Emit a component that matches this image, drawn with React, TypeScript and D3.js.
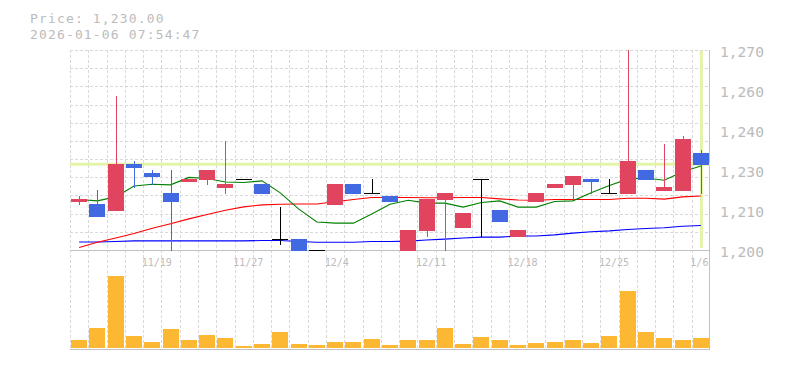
import React from 'react';
import * as d3 from 'd3';

const dates = ['11/13','11/14','11/17','11/18','11/19','11/20','11/21','11/25','11/26','11/27','11/28','12/1','12/2','12/3','12/4','12/5','12/8','12/9','12/10','12/11','12/12','12/15','12/16','12/17','12/18','12/19','12/22','12/23','12/24','12/25','12/26','12/29','12/30','1/5','1/6'];
const openP = [1217,1216,1214,1230,1227,1220,1224,1225,1222,1225,1223,1204,1204,1200,1216,1223,1220,1219,1200,1207,1218,1208,1225,1214,1205,1217,1222,1223,1225,1220,1220,1228,1221,1221,1234];
const highP = [1219,1221,1254,1231,1228,1228,1225,1228,1238,1225,1223,1215,1204,1200,1223,1223,1225,1219,1207,1218,1220,1213,1225,1214,1207,1220,1223,1226,1225,1225,1270,1228,1237,1240,1235];
const lowP = [1216,1212,1214,1222,1223,1200,1224,1223,1220,1225,1220,1202,1200,1200,1216,1220,1220,1217,1200,1205,1200,1208,1205,1210,1205,1217,1222,1218,1220,1220,1220,1225,1221,1221,1220];
const closeP = [1218,1212,1230,1229,1226,1217,1225,1228,1223,1225,1220,1204,1200,1200,1223,1220,1220,1217,1207,1218,1220,1213,1225,1210,1207,1220,1223,1226,1224,1220,1231,1225,1222,1239,1230];
const volume = [8000,20000,71000,12000,6000,19000,8000,13000,10000,2000,4000,16000,4000,3000,6000,6000,9000,3000,8000,8000,20000,4000,11000,8000,3000,5000,6000,8000,5000,12000,56000,16000,10000,8000,10000];
const ma5 = [1217.7,1217.2,1218.6,1222.4,1223.0,1222.8,1225.4,1225.0,1223.8,1223.6,1224.2,1220.0,1214.4,1209.8,1209.4,1209.4,1212.6,1216.0,1217.4,1216.4,1216.4,1215.0,1216.6,1217.2,1215.0,1215.0,1217.0,1217.2,1220.0,1222.6,1224.8,1225.2,1224.4,1227.4,1229.4];
const ma25 = [1200.9,1202.7,1204.2,1205.8,1207.6,1209.2,1210.9,1212.4,1213.9,1215.1,1215.8,1216.0,1216.1,1216.1,1216.9,1217.7,1218.4,1218.4,1218.4,1218.3,1218.3,1218.4,1218.4,1217.9,1217.5,1217.4,1217.7,1217.7,1217.7,1217.7,1218.1,1218.1,1217.8,1218.6,1218.9];
const ma75 = [1202.8,1202.8,1203.0,1203.2,1203.2,1203.2,1203.2,1203.2,1203.2,1203.2,1203.3,1203.3,1203.0,1202.7,1202.7,1202.7,1203.0,1203.0,1203.1,1203.5,1203.8,1204.2,1204.5,1204.5,1204.9,1204.9,1205.3,1205.9,1206.4,1206.7,1207.2,1207.5,1207.8,1208.3,1208.6];
const xLabels = ['11/19','11/27','12/4','12/11','12/18','12/25','1/6'];
const yTickLabels = ['1,200','1,210','1,230','1,240','1,260','1,270'];
const titlePrice = 'Price: 1,230.00';
const titleTime = '2026-01-06 07:54:47';
const currentPrice = 1230;
const priceMin = 1200;
const priceMax = 1270;

const UP = '#e0445f';
const DOWN = '#4169e1';
const VOL = '#fdb833';
const GRID = '#d9d9d9';
const AXIS = '#c0c0c0';
const TEXT = '#bbbbbb';
const HIL = '#e3f4a8';
const FONT = '"DejaVu Sans Mono", monospace';

export default function App() {
  const left = 70, right = 710, pTop = 50, pBot = 250, vTop = 262, vBot = 348, bottom = 350;
  const x = d3.scaleBand<string>().domain(dates).range([left, right]).paddingInner(0.125).paddingOuter(0.0625);
  const bw = x.bandwidth();
  const step = x.step();
  const y = d3.scaleLinear().domain([priceMin, priceMax]).range([pBot, pTop]);
  const yv = d3.scaleLinear().domain([0, (d3.max(volume) as number) * 1.2]).range([vBot, vTop]);
  const cx = (i: number) => (x(dates[i]) as number) + bw / 2;
  const line = d3.line<number>().x((_, i) => cx(i)).y(d => y(d));

  const hGrid = d3.range(12).map(k => pTop + (k * (pBot - pTop)) / 11);
  const vGrid = d3.range(35).map(k => left + k * step);
  const tickVals = yTickLabels.map((_, i) => priceMin + (i * (priceMax - priceMin)) / (yTickLabels.length - 1));
  const lastX = cx(dates.length - 1);

  return (
    <svg width={785} height={370} style={{ position: 'absolute', left: 0, top: 0, background: '#fff' }}>
      <text x={30} y={23} fontFamily={FONT} fontSize={13} letterSpacing={1.15} fill={TEXT}>{titlePrice}</text>
      <text x={30} y={38.5} fontFamily={FONT} fontSize={13} letterSpacing={1.15} fill={TEXT}>{titleTime}</text>

      {hGrid.map((g, k) => k < 11 && (
        <line key={'h' + k} x1={left} x2={right} y1={Math.round(g) + 0.5} y2={Math.round(g) + 0.5} stroke={GRID} strokeDasharray="3,2" shapeRendering="crispEdges" />
      ))}
      {vGrid.map((g, k) => (
        <line key={'v' + k} x1={Math.round(g) + 0.5} x2={Math.round(g) + 0.5} y1={pTop} y2={bottom} stroke={GRID} strokeDasharray="3,2" shapeRendering="crispEdges" />
      ))}

      <line x1={left} x2={right} y1={pBot + 0.5} y2={pBot + 0.5} stroke={AXIS} shapeRendering="crispEdges" />
      <line x1={left} x2={right} y1={bottom - 0.5} y2={bottom - 0.5} stroke={AXIS} shapeRendering="crispEdges" />
      <line x1={right - 0.5} x2={right - 0.5} y1={pTop} y2={bottom} stroke={AXIS} shapeRendering="crispEdges" />

      <line x1={left} x2={right} y1={y(currentPrice)} y2={y(currentPrice)} stroke={HIL} strokeWidth={3} />
      <line x1={lastX + 0.5} x2={lastX + 0.5} y1={pTop + 1} y2={pBot - 2} stroke={HIL} strokeWidth={3} />

      <path d={line(ma75) || ''} fill="none" stroke="#0000ff" strokeWidth={1.1} />
      <path d={line(ma25) || ''} fill="none" stroke="#ff0000" strokeWidth={1.1} />
      <path d={line(ma5) || ''} fill="none" stroke="#008000" strokeWidth={1.1} />

      {dates.map((d, i) => {
        const rx = Math.round(x(d) as number);
        const o = openP[i], c = closeP[i];
        const col = c > o ? UP : c < o ? DOWN : '#000';
        const wx = rx + 8;
        const hy = Math.round(y(highP[i]));
        const ly = Math.round(y(lowP[i]));
        const top = Math.round(y(Math.max(o, c)));
        const bot = Math.round(y(Math.min(o, c)));
        return (
          <g key={'c' + i} shapeRendering="crispEdges">
            {ly > hy && <rect x={wx} y={hy} width={1} height={ly - hy + 1} fill={col} />}
            {c === o
              ? <rect x={rx} y={top} width={Math.round(bw)} height={1} fill={col} />
              : <rect x={rx} y={top} width={Math.round(bw)} height={bot - top + 1} fill={col} />}
          </g>
        );
      })}

      {dates.map((d, i) => {
        const rx = Math.round(x(d) as number);
        const ty = Math.round(yv(volume[i]));
        return <rect key={'vb' + i} x={rx} y={ty} width={Math.round(bw)} height={vBot - ty} fill={VOL} shapeRendering="crispEdges" />;
      })}

      {xLabels.map(l => (
        <text key={'xl' + l} x={(x(l) as number) - 2.5} y={266} fontFamily={FONT} fontSize={10} fill={TEXT}>{l}</text>
      ))}

      {yTickLabels.map((l, i) => (
        <text key={'yl' + l} x={720} y={y(tickVals[i]) + 7} fontFamily={FONT} fontSize={14.6} fill={TEXT}>{l}</text>
      ))}
    </svg>
  );
}
